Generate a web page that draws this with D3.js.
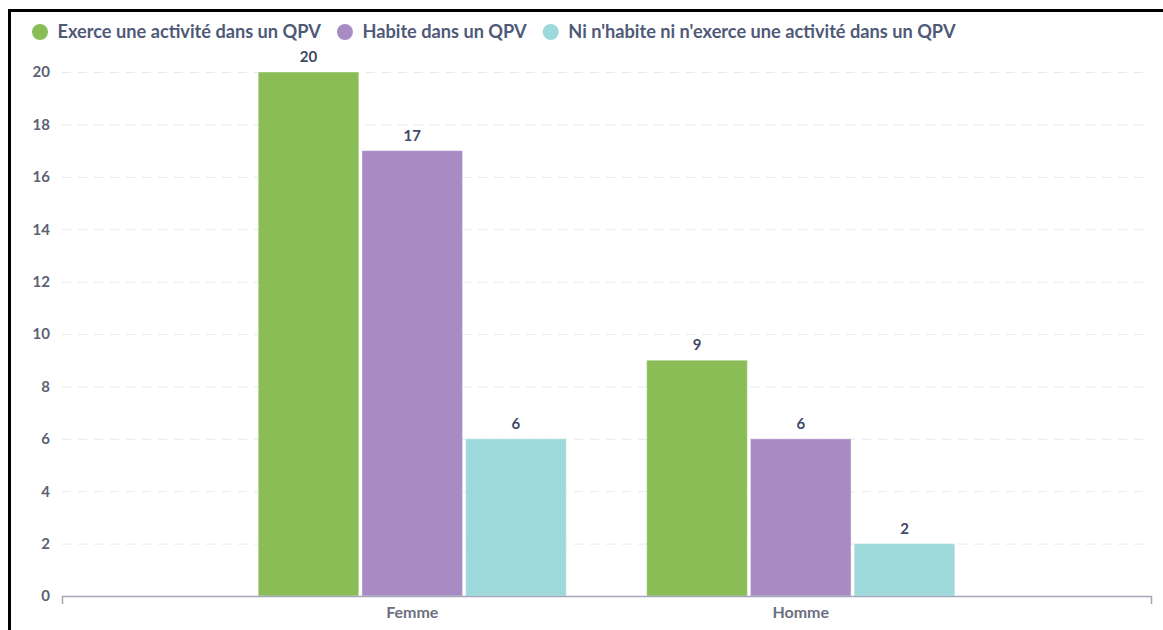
<!DOCTYPE html>
<html>
<head>
<meta charset="utf-8">
<script src="https://cdn.jsdelivr.net/npm/d3@7"></script>
<style>
  body { margin: 0; background: #fff; }
  svg { display: block; font-family: Lato, 'Open Sans', sans-serif; }
</style>
</head>
<body>
<svg id="chart" width="1163" height="630"></svg>
<script>
const categories = ['Femme', 'Homme'];
const seriesNames = [
  'Exerce une activité dans un QPV',
  'Habite dans un QPV',
  "Ni n'habite ni n'exerce une activité dans un QPV"
];
const seriesColors = ['#8bbd56', '#a98bc4', '#9dd9da'];
const exerceValues = [20, 9];
const habiteValues = [17, 6];
const niValues = [6, 2];
const yTicks = [0, 2, 4, 6, 8, 10, 12, 14, 16, 18, 20];

const series = [exerceValues, habiteValues, niValues];

const svg = d3.select('#chart');
const margin = { top: 72, left: 62, right: 12, bottom: 34 };
const width = +svg.attr('width');
const height = +svg.attr('height');

// frame around the chart (only top and left edges visible)
svg.append('rect')
  .attr('x', 9.5)
  .attr('y', 10.5)
  .attr('width', width + 20)
  .attr('height', height + 20)
  .attr('fill', 'none')
  .attr('stroke', '#000')
  .attr('stroke-width', 3);

const x0 = d3.scaleBand()
  .domain(categories)
  .range([margin.left, width - margin.right])
  .paddingInner(0.207)
  .paddingOuter(0.505);

const x1 = d3.scaleBand()
  .domain(d3.range(series.length))
  .range([0, x0.bandwidth()])
  .paddingInner(0.03);

const y = d3.scaleLinear()
  .domain([0, 20])
  .range([height - margin.bottom, margin.top]);

// grid
svg.append('g')
  .selectAll('line')
  .data(yTicks.filter(d => d > 0))
  .enter().append('line')
    .attr('x1', margin.left)
    .attr('x2', width - margin.right)
    .attr('y1', d => y(d) + 0.5)
    .attr('y2', d => y(d) + 0.5)
    .attr('stroke', '#e6e8ee')
    .attr('stroke-dasharray', '9,7');

// y axis labels
const yAxis = svg.append('g')
  .attr('transform', `translate(${margin.left - 12},0)`)
  .call(d3.axisLeft(y).tickValues(yTicks).tickSize(0).tickPadding(0));
yAxis.select('.domain').remove();
yAxis.selectAll('text')
  .attr('fill', '#5b6274')
  .attr('font-size', 15)
  .attr('font-weight', 700)
  .attr('font-family', 'Lato');

// bars
const group = svg.append('g')
  .selectAll('g')
  .data(categories)
  .enter().append('g')
    .attr('transform', d => `translate(${x0(d)},0)`);

const bar = group.selectAll('g')
  .data((c, ci) => series.map((s, si) => ({ si, value: s[ci] })))
  .enter().append('g');

bar.append('rect')
  .attr('x', d => x1(d.si))
  .attr('y', d => y(d.value))
  .attr('width', x1.bandwidth())
  .attr('height', d => y(0) - y(d.value))
  .attr('fill', d => seriesColors[d.si])
  .attr('stroke', '#fff')
  .attr('stroke-opacity', 0.4)
  .attr('stroke-width', 1);

bar.append('text')
  .attr('x', d => x1(d.si) + x1.bandwidth() / 2)
  .attr('y', d => y(d.value) - 10)
  .attr('text-anchor', 'middle')
  .attr('fill', '#3f4865')
  .attr('font-size', 15)
  .attr('font-weight', 700)
  .text(d => d.value);

// x axis
const xAxis = svg.append('g')
  .attr('transform', `translate(0,${y(0)})`)
  .call(d3.axisBottom(x0).tickSizeInner(0).tickSizeOuter(8).tickPadding(11));
xAxis.select('.domain')
  .attr('stroke', '#a2a8ba')
  .attr('stroke-width', 1.5);
xAxis.selectAll('text')
  .attr('fill', '#6b7080')
  .attr('font-size', 16)
  .attr('font-weight', 700)
  .attr('font-family', 'Lato');

// legend
const legend = svg.append('g').attr('transform', 'translate(40,32)');
let lx = 0;
seriesNames.forEach((name, i) => {
  const item = legend.append('g').attr('transform', `translate(${lx},0)`);
  item.append('circle')
    .attr('r', 8)
    .attr('fill', seriesColors[i]);
  const t = item.append('text')
    .attr('x', 17.5)
    .attr('dy', '0.35em')
    .attr('fill', '#4f5a78')
    .attr('font-size', 18.2)
    .attr('font-weight', 700)
    .text(name);
  lx += 17.5 + t.node().getComputedTextLength() + 24;
});
</script>
</body>
</html>
